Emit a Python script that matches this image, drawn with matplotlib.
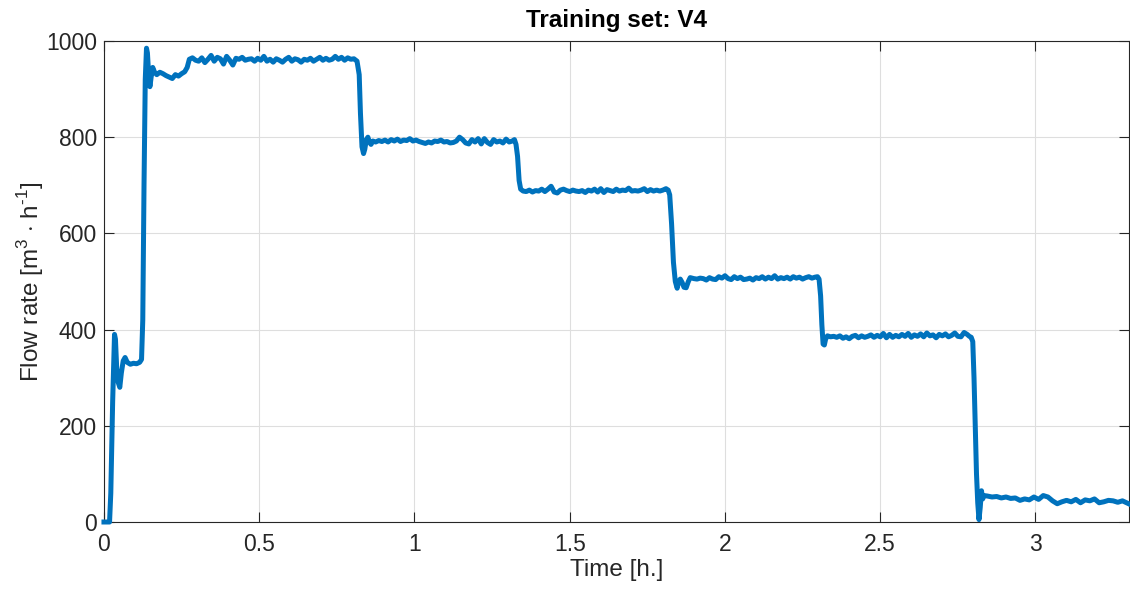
import numpy as np
import matplotlib.pyplot as plt

# Flow rate record for training set V4 (time in hours, flow in m3/h)
time_h = [
    0.000, 0.018, 0.022, 0.028, 0.034, 0.037, 0.041, 0.046, 0.051, 0.056,
    0.062, 0.068, 0.075, 0.085, 0.095, 0.105, 0.115, 0.121, 0.125, 0.129,
    0.133, 0.137, 0.140, 0.144, 0.148, 0.152, 0.157, 0.163, 0.170,
    0.180, 0.190, 0.200, 0.210, 0.220, 0.230, 0.240, 0.250, 0.260, 0.268,
    0.275, 0.285, 0.295, 0.305, 0.315, 0.325, 0.335, 0.345, 0.355, 0.365,
    0.375, 0.385, 0.395, 0.405, 0.415, 0.425, 0.435, 0.445, 0.455, 0.465,
    0.475, 0.485, 0.495, 0.505, 0.515, 0.525, 0.535, 0.545, 0.555, 0.565,
    0.575, 0.585, 0.595, 0.605, 0.615, 0.625, 0.635, 0.645, 0.655, 0.665,
    0.675, 0.685, 0.695, 0.705, 0.715, 0.725, 0.735, 0.745, 0.755, 0.765,
    0.775, 0.785, 0.795, 0.805, 0.815,
    0.822, 0.826, 0.831, 0.836, 0.840, 0.845, 0.850, 0.855, 0.860, 0.866,
    0.875, 0.885, 0.895, 0.905, 0.915, 0.925, 0.935, 0.945, 0.955, 0.965,
    0.975, 0.985, 0.995, 1.005, 1.015, 1.025, 1.035, 1.045, 1.055, 1.065,
    1.075, 1.085, 1.095, 1.105, 1.115, 1.125, 1.135, 1.145, 1.155, 1.165,
    1.175, 1.185, 1.195, 1.205, 1.215, 1.225, 1.235, 1.245, 1.255, 1.265,
    1.275, 1.285, 1.295, 1.305, 1.315, 1.322, 1.327,
    1.332, 1.337, 1.342, 1.350,
    1.360, 1.370, 1.380, 1.390, 1.400, 1.410, 1.420, 1.430, 1.440, 1.450,
    1.460, 1.470, 1.480, 1.490, 1.500, 1.510, 1.520, 1.530, 1.540, 1.550,
    1.560, 1.570, 1.580, 1.590, 1.600, 1.610, 1.620, 1.630, 1.640, 1.650,
    1.660, 1.670, 1.680, 1.690, 1.700, 1.710, 1.720, 1.730, 1.740, 1.750,
    1.760, 1.770, 1.780, 1.790, 1.800, 1.810, 1.817, 1.822,
    1.828, 1.834, 1.840, 1.846, 1.851, 1.856, 1.862, 1.868, 1.875, 1.882,
    1.888,
    1.900, 1.910, 1.920, 1.930, 1.940, 1.950, 1.960, 1.970, 1.980, 1.990,
    2.000, 2.010, 2.020, 2.030, 2.040, 2.050, 2.060, 2.070, 2.080, 2.090,
    2.100, 2.110, 2.120, 2.130, 2.140, 2.150, 2.160, 2.170, 2.180, 2.190,
    2.200, 2.210, 2.220, 2.230, 2.240, 2.250, 2.260, 2.270, 2.280, 2.290,
    2.298, 2.303,
    2.308, 2.312, 2.316, 2.320, 2.324, 2.330,
    2.340, 2.350, 2.360, 2.370, 2.380, 2.390, 2.400, 2.410, 2.420, 2.430,
    2.440, 2.450, 2.460, 2.470, 2.480, 2.490, 2.500, 2.510, 2.520, 2.530,
    2.540, 2.550, 2.560, 2.570, 2.580, 2.590, 2.600, 2.610, 2.620, 2.630,
    2.640, 2.650, 2.660, 2.670, 2.680, 2.690, 2.700, 2.710, 2.720, 2.730,
    2.740, 2.750, 2.760, 2.770, 2.780, 2.787, 2.793, 2.798,
    2.802, 2.806, 2.810, 2.814, 2.818, 2.822, 2.826, 2.830, 2.834,
    2.845, 2.860, 2.875, 2.890, 2.905, 2.920, 2.935, 2.950, 2.965, 2.980,
    2.995, 3.010, 3.025, 3.040, 3.055, 3.070, 3.085, 3.100, 3.115, 3.130,
    3.145, 3.160, 3.175, 3.190, 3.205, 3.220, 3.235, 3.250, 3.265, 3.280,
    3.300,
]

flow_rate = [
    0, 0, 60, 250, 390, 380, 320, 290, 280, 310,
    335, 342, 332, 328, 330, 329, 332, 338, 420, 700,
    920, 985, 975, 930, 905, 925, 945, 935, 930,
    935, 932, 928, 925, 922, 930, 927, 932, 936, 945,
    962, 965, 960, 958, 965, 955, 962, 970, 958, 966,
    963, 952, 968, 960, 950, 964, 962, 966, 960, 962,
    963, 958, 964, 960, 968, 958, 962, 956, 963, 960,
    956, 962, 966, 958, 963, 961, 956, 962, 960, 964,
    958, 962, 966, 960, 964, 960, 962, 968, 962, 966,
    960, 965, 962, 963, 958,
    930, 850, 780, 766, 775, 795, 800, 790, 785, 792,
    790, 793, 791, 794, 790, 795, 792, 796, 791, 794,
    793, 797, 792, 794, 791, 789, 787, 790, 788, 792,
    791, 794, 790, 791, 788, 789, 792, 800, 795, 788,
    786, 795, 790, 797, 786, 797, 789, 785, 795, 790,
    792, 788, 796, 790, 792, 795, 785,
    760, 710, 692, 688,
    687, 690, 686, 689, 688, 692, 687, 692, 698, 686,
    684, 690, 692, 689, 687, 690, 688, 687, 689, 685,
    690, 688, 692, 686, 693, 685, 691, 689, 687, 692,
    688, 690, 689, 694, 688, 689, 688, 690, 693, 687,
    691, 688, 690, 688, 690, 693, 690, 680,
    620, 540, 500, 486, 500, 505, 498, 488, 487, 500,
    508,
    506, 505, 507, 506, 503, 508, 505, 504, 510, 507,
    512, 506, 504, 510, 506, 509, 504, 505, 507, 503,
    508, 506, 510, 505, 509, 506, 512, 505, 508, 506,
    509, 505, 510, 507, 509, 505, 508, 510, 507, 509,
    510, 505,
    470, 410, 370, 368, 380, 387,
    385, 386, 384, 387, 382, 385, 381, 386, 388, 383,
    387, 384, 386, 389, 384, 388, 385, 392, 383, 390,
    384, 388, 385, 390, 386, 392, 384, 389, 386, 391,
    385, 393, 387, 389, 383, 390, 387, 391, 385, 388,
    393, 386, 385, 394, 390, 386, 384, 375,
    300, 200, 100, 40, 5, 30, 65, 48, 55,
    54, 52, 53, 50, 52, 49, 50, 45, 48, 46,
    52, 47, 55, 52, 44, 38, 42, 45, 42, 47,
    40, 46, 44, 48, 40, 42, 45, 44, 41, 44,
    38,
]

x_ticks = [0, 0.5, 1, 1.5, 2, 2.5, 3]
y_ticks = [0, 200, 400, 600, 800, 1000]

TEXT_COLOR = '#262626'
LINE_COLOR = '#0072BD'

plt.rcParams['font.family'] = ['Liberation Sans', 'DejaVu Sans']
plt.rcParams['mathtext.fontset'] = 'custom'
plt.rcParams['mathtext.rm'] = 'Liberation Sans'

fig = plt.figure(figsize=(11.3, 5.94), dpi=100)
ax = fig.add_axes([0.092, 0.1212, 0.9068, 0.8098])

# line may spill over the axes edges, as in the original figure export
ax.plot(time_h, flow_rate, color=LINE_COLOR, linewidth=3.6,
        solid_joinstyle='round', clip_on=False, zorder=3)

ax.set_xlim(0, 3.3)
ax.set_ylim(0, 1000)
ax.set_xticks(x_ticks)
ax.set_xticklabels(['0', '0.5', '1', '1.5', '2', '2.5', '3'])
ax.set_yticks(y_ticks)

ax.grid(True, color='#dedede', linewidth=0.8)
ax.set_axisbelow(True)
for spine in ax.spines.values():
    spine.set_color(TEXT_COLOR)
    spine.set_linewidth(0.8)
ax.tick_params(direction='in', length=7, width=0.8, colors=TEXT_COLOR,
               labelsize=16.5, top=True, right=True)
ax.tick_params(axis='x', pad=8)
ax.tick_params(axis='y', pad=5)

ax.set_xlabel('Time [h.]', fontsize=17.5, color=TEXT_COLOR, labelpad=2)
ax.set_ylabel('Flow rate [m$^{\\mathrm{3}}$ $\\cdot$ h$^{\\text{-1}}$]', fontsize=17.5,
              color=TEXT_COLOR, labelpad=0)
ax.set_title('Training set: V4', fontsize=17.5, fontweight='bold', color='black', pad=10)

fig.savefig('out.png', dpi=100)
